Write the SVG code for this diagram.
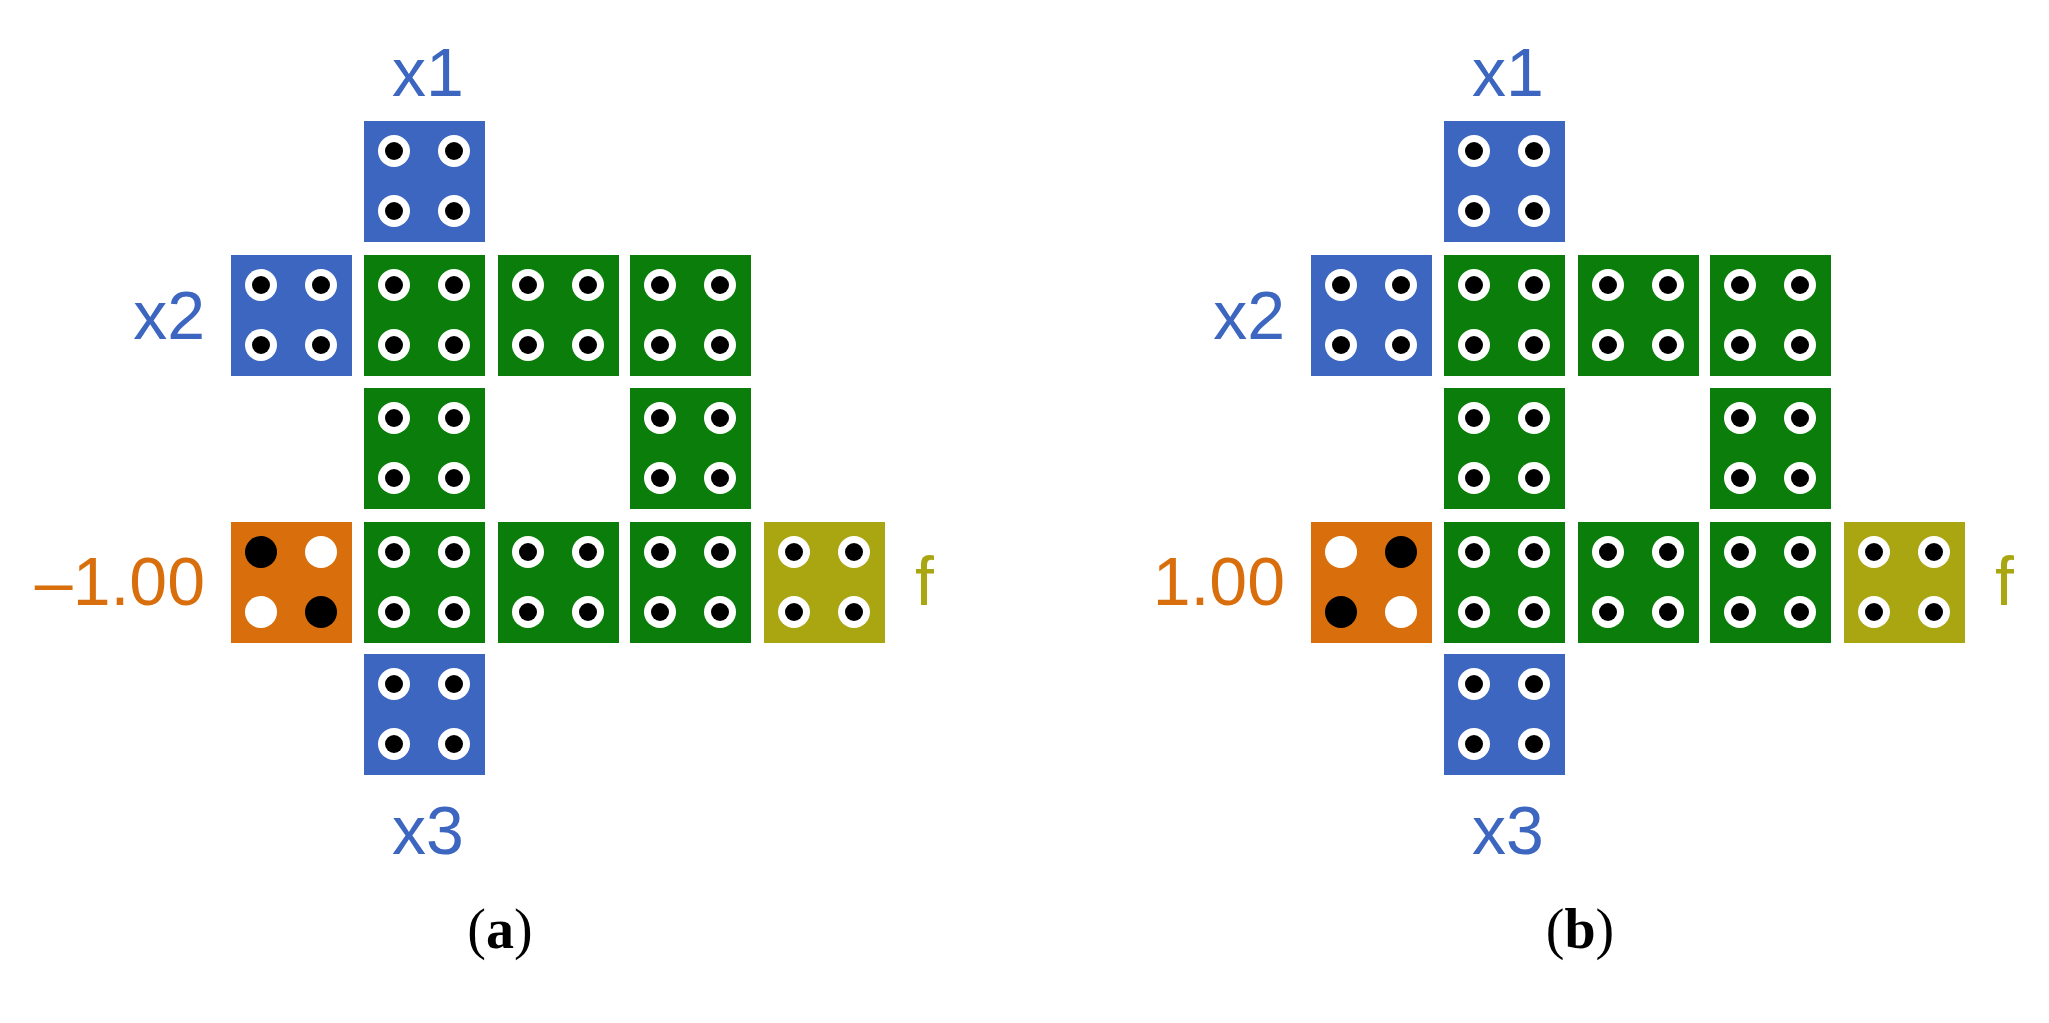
<svg xmlns="http://www.w3.org/2000/svg" width="2049" height="1023" viewBox="0 0 2049 1023">
<style>
.b{fill:#3c66bf}.g{fill:#0b7d0b}.o{fill:#d96f0c}.y{fill:#a9a611}
.r{fill:#fff}.k{fill:#000}
.l{font-family:"Liberation Sans",Arial,sans-serif;font-size:68px}
.cap{font-family:"Liberation Serif",serif;font-size:56px;text-anchor:middle}
</style>
<defs>
<g id="d"><circle r="16" class="r"/><circle r="9" class="k"/></g>
<g id="t"><use href="#d" x="30" y="30"/><use href="#d" x="90" y="30"/><use href="#d" x="30" y="90"/><use href="#d" x="90" y="90"/></g>
<g id="panel">
<g id="x1"><rect x="364" y="121" width="121" height="121" class="b"/><use href="#t" x="364" y="121"/></g>
<g id="x2"><rect x="231" y="255" width="121" height="121" class="b"/><use href="#t" x="231" y="255"/></g>
<g id="x3"><rect x="364" y="654" width="121" height="121" class="b"/><use href="#t" x="364" y="654"/></g>
<g id="greens">
<rect x="364" y="255" width="121" height="121" class="g"/><use href="#t" x="364" y="255"/>
<rect x="498" y="255" width="121" height="121" class="g"/><use href="#t" x="498" y="255"/>
<rect x="630" y="255" width="121" height="121" class="g"/><use href="#t" x="630" y="255"/>
<rect x="364" y="388" width="121" height="121" class="g"/><use href="#t" x="364" y="388"/>
<rect x="630" y="388" width="121" height="121" class="g"/><use href="#t" x="630" y="388"/>
<rect x="364" y="522" width="121" height="121" class="g"/><use href="#t" x="364" y="522"/>
<rect x="498" y="522" width="121" height="121" class="g"/><use href="#t" x="498" y="522"/>
<rect x="630" y="522" width="121" height="121" class="g"/><use href="#t" x="630" y="522"/>
</g>
<g id="f"><rect x="764" y="522" width="121" height="121" class="y"/><use href="#t" x="764" y="522"/></g>
<text class="l" x="428" y="96" text-anchor="middle" fill="#3c66bf">x1</text>
<text class="l" x="205" y="339" text-anchor="end" fill="#3c66bf">x2</text>
<text class="l" x="428" y="854" text-anchor="middle" fill="#3c66bf">x3</text>
<text class="l" x="915" y="605" fill="#a9a611">f</text>
</g>
</defs>
<rect width="2049" height="1023" fill="#fff"/>
<g id="panelA">
<use href="#panel"/>
<g id="oa"><rect x="231" y="522" width="121" height="121" class="o"/>
<circle cx="261" cy="552" r="16" class="k"/><circle cx="321" cy="552" r="16" class="r"/>
<circle cx="261" cy="612" r="16" class="r"/><circle cx="321" cy="612" r="16" class="k"/></g>
<text class="l" x="205" y="605" text-anchor="end" fill="#d96f0c">–1.00</text>
<text class="cap" x="500" y="948">(<tspan font-weight="bold">a</tspan>)</text>
</g>
<g id="panelB" transform="translate(1080,0)">
<use href="#panel"/>
<g id="ob"><rect x="231" y="522" width="121" height="121" class="o"/>
<circle cx="261" cy="552" r="16" class="r"/><circle cx="321" cy="552" r="16" class="k"/>
<circle cx="261" cy="612" r="16" class="k"/><circle cx="321" cy="612" r="16" class="r"/></g>
<text class="l" x="205" y="605" text-anchor="end" fill="#d96f0c">1.00</text>
<text class="cap" x="500" y="948">(<tspan font-weight="bold">b</tspan>)</text>
</g>
</svg>
